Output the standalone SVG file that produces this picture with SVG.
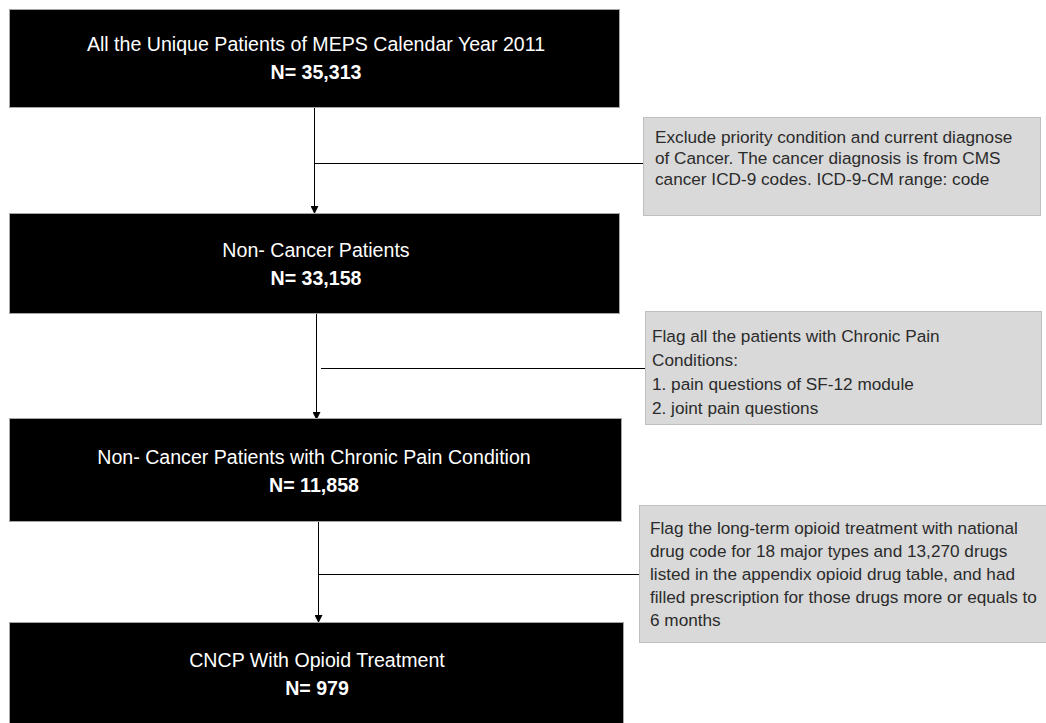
<svg xmlns="http://www.w3.org/2000/svg" width="1046" height="723" viewBox="0 0 1046 723">
<defs>
<style>
.box{fill:#000;stroke:#a6a6a6;stroke-width:1}
.note{fill:#d9d9d9;stroke:#bfbfbf;stroke-width:1}
.t{font-family:"Liberation Sans",Arial,sans-serif;fill:#fff;font-size:19.6px;text-anchor:middle}
.b{font-weight:bold}
.n{font-family:"Liberation Sans",Arial,sans-serif;fill:#2b2b2b;font-size:17.2px}
.c{stroke:#000;stroke-width:1;fill:none}
</style>
<marker id="ah" markerWidth="8" markerHeight="8" refX="7" refY="4" orient="auto" markerUnits="userSpaceOnUse">
<path d="M0,0 L8,4 L0,8 Z" fill="#000"/>
</marker>
</defs>
<rect width="1046" height="723" fill="#fff"/>
<g id="connectors">
<line class="c" x1="314.5" y1="108" x2="314.5" y2="213" marker-end="url(#ah)"/>
<line class="c" x1="314.5" y1="163.5" x2="643" y2="163.5"/>
<line class="c" x1="316.5" y1="314" x2="316.5" y2="419" marker-end="url(#ah)"/>
<line class="c" x1="321" y1="368.5" x2="645" y2="368.5"/>
<line class="c" x1="318.5" y1="522" x2="318.5" y2="622" marker-end="url(#ah)"/>
<line class="c" x1="318.5" y1="574.5" x2="640" y2="574.5"/>
</g>
<g id="node1">
<rect class="box" x="9.5" y="9.5" width="610" height="98"/>
<text class="t" x="316" y="51">All the Unique Patients of MEPS Calendar Year 2011</text>
<text class="t b" x="316" y="79">N= 35,313</text>
</g>
<g id="note1">
<rect class="note" x="643.5" y="117.5" width="397" height="98"/>
<text class="n" x="655" y="143">Exclude priority condition and current diagnose</text>
<text class="n" x="655" y="164">of Cancer. The cancer diagnosis is from CMS</text>
<text class="n" x="655" y="185">cancer ICD-9 codes. ICD-9-CM range: code</text>
</g>
<g id="node2">
<rect class="box" x="9.5" y="213.5" width="610" height="100"/>
<text class="t" x="316" y="257">Non- Cancer Patients</text>
<text class="t b" x="316" y="285">N= 33,158</text>
</g>
<g id="note2">
<rect class="note" x="645.5" y="311.5" width="396" height="113"/>
<text class="n" x="652" y="342">Flag all the patients with Chronic Pain</text>
<text class="n" x="652" y="366">Conditions:</text>
<text class="n" x="652" y="390">1. pain questions of SF-12 module</text>
<text class="n" x="652" y="414">2. joint pain questions</text>
</g>
<g id="node3">
<rect class="box" x="9.5" y="418.5" width="612" height="103"/>
<text class="t" x="314" y="464">Non- Cancer Patients with Chronic Pain Condition</text>
<text class="t b" x="314" y="492">N= 11,858</text>
</g>
<g id="note3">
<rect class="note" x="639.5" y="505.5" width="410" height="137"/>
<text class="n" x="650" y="534">Flag the long-term opioid treatment with national</text>
<text class="n" x="650" y="557">drug code for 18 major types and 13,270 drugs</text>
<text class="n" x="650" y="580">listed in the appendix opioid drug table, and had</text>
<text class="n" x="650" y="603">filled prescription for those drugs more or equals to</text>
<text class="n" x="650" y="626">6 months</text>
</g>
<g id="node4">
<rect class="box" x="9.5" y="622.5" width="614" height="110"/>
<text class="t" x="317" y="667">CNCP With Opioid Treatment</text>
<text class="t b" x="317" y="695">N= 979</text>
</g>
</svg>
